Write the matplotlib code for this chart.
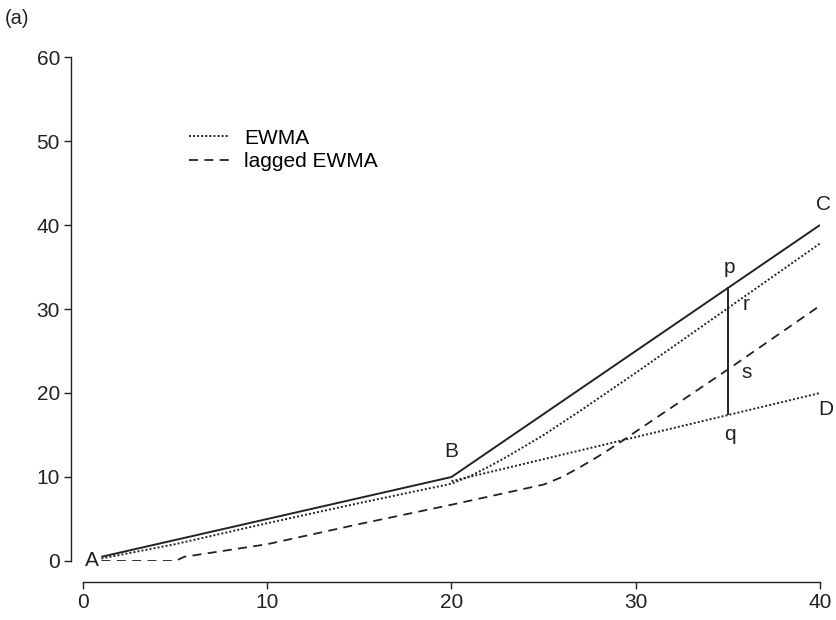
"""
EWMA vs lagged EWMA — trend break illustration, panel (a).
"""

import matplotlib
matplotlib.use("Agg")
import matplotlib.pyplot as plt

plt.rcParams["font.family"] = ["Liberation Sans", "DejaVu Sans"]

# trend: A -> B -> C
trend_x = [1, 20, 40]
trend_y = [0.5, 10, 40]

# EWMA of the trend
ewma_x = [1, 5, 10, 15, 20, 21, 22, 23, 24, 25, 27, 30, 35, 40]
ewma_y = [0.3, 2.0, 4.5, 6.9, 9.2, 10.1, 11.2, 12.4, 13.7, 15.0, 17.9, 22.4, 30.1, 37.8]

# EWMA extrapolated from B (no break) -> D
extrap_x = [20, 40]
extrap_y = [9.5, 20]

# lagged EWMA
lag_x = [1, 5, 5.5, 10, 15, 20, 25, 26, 27, 28, 29, 30, 35, 40]
lag_y = [0, 0, 0.5, 2.0, 4.4, 6.7, 9.1, 10.0, 11.2, 12.5, 13.9, 15.4, 22.8, 30.4]

# vertical gap p-q at x = 35
gap_x = 35
gap_lo, gap_hi = 17.5, 32.5

labels = [
    ("A", 0.5, 0.0), ("B", 20.0, 13.0), ("C", 40.2, 42.5), ("D", 40.3, 18.0),
    ("p", 35.1, 35.0), ("q", 35.1, 15.0), ("r", 36.0, 30.5), ("s", 36.0, 22.5),
]

fig = plt.figure(figsize=(8.37, 6.2), dpi=100)
ax = fig.add_axes([83 / 837, 59 / 620, 737 / 837, 504 / 620])

ax.plot(trend_x, trend_y, color="#222222", lw=1.4, solid_capstyle="butt")
ax.plot(ewma_x, ewma_y, color="#222222", lw=1.4, ls=(0, (1, 1.1)), label="EWMA")
ax.plot(extrap_x, extrap_y, color="#222222", lw=1.4, ls=(0, (1, 1.1)))
ax.plot(lag_x, lag_y, color="#222222", lw=1.3, ls=(0, (5, 3.5)), label="lagged EWMA")
ax.plot([gap_x, gap_x], [gap_lo, gap_hi], color="#222222", lw=1.4)

for txt, x, y in labels:
    ax.text(x, y, txt, fontsize=15, color="#222222", ha="center", va="center")

ax.set_xlim(0, 40)
ax.set_ylim(0, 60)
ax.set_xticks([0, 10, 20, 30, 40])
ax.set_yticks([0, 10, 20, 30, 40, 50, 60])

for side in ("top", "right"):
    ax.spines[side].set_visible(False)
ax.spines["left"].set_position(("outward", 8.6))
ax.spines["bottom"].set_position(("outward", 15))
for side in ("left", "bottom"):
    ax.spines[side].set_color("#222222")
    ax.spines[side].set_linewidth(1.0)
ax.tick_params(direction="out", length=5, width=1.0, color="#222222",
               labelsize=15, labelcolor="#222222", pad=3)

ax.legend(loc="upper left", bbox_to_anchor=(0.118, 0.895), frameon=False,
          fontsize=15, handlelength=2.0, handletextpad=0.65, labelspacing=0.22)

fig.text(5 / 837, 1 - 18 / 620, "(a)", fontsize=14.5, color="#222222", va="center")

fig.savefig("out.png", dpi=100)
plt.close(fig)
